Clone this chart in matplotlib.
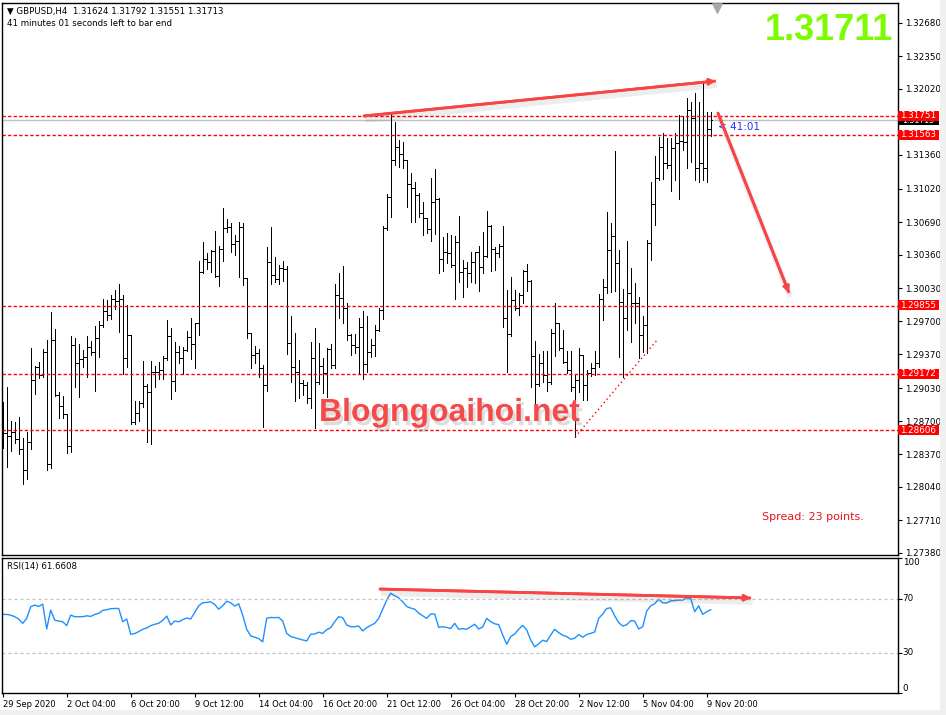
import matplotlib
matplotlib.use("Agg")
import matplotlib.pyplot as plt
import matplotlib.patheffects as pe
import matplotlib.transforms as mtransforms
from matplotlib.patches import Rectangle
import numpy as np

plt.rcParams['font.family'] = ['DejaVu Sans']

# GBPUSD H4 bars (oldest first)
opens = [
    1.2861, 1.2858, 1.2855, 1.2859, 1.2852, 1.2842, 1.2821, 1.2849, 1.2911, 1.2924,
    1.2916, 1.2939, 1.2827, 1.2951, 1.2896, 1.2885, 1.2877, 1.2845, 1.2946, 1.2928,
    1.2932, 1.2934, 1.2944, 1.2939, 1.2953, 1.2966, 1.2980, 1.2976, 1.2992, 1.2990,
    1.2992, 1.2933, 1.2956, 1.2869, 1.2878, 1.2888, 1.2905, 1.2899, 1.2919, 1.2919,
    1.2921, 1.2933, 1.2955, 1.2910, 1.2939, 1.2933, 1.2941, 1.2954, 1.2947, 1.2968,
    1.3019, 1.3032, 1.3029, 1.3040, 1.3015, 1.3042, 1.3063, 1.3064, 1.3047, 1.3050,
    1.3064, 1.3013, 1.2958, 1.2936, 1.2938, 1.2923, 1.2906, 1.3029, 1.3016, 1.3012,
    1.3023, 1.3022, 1.2948, 1.2924, 1.2919, 1.2908, 1.2906, 1.2893, 1.2933, 1.2909,
    1.2925, 1.2918, 1.2942, 1.2926, 1.2996, 1.2993, 1.2983, 1.2956, 1.2946, 1.2944,
    1.2964, 1.2927, 1.2939, 1.2946, 1.2961, 1.2981, 1.3063, 1.3094, 1.3131, 1.3144,
    1.3137, 1.3131, 1.3107, 1.3103, 1.3096, 1.3078, 1.3073, 1.3062, 1.3089, 1.3092,
    1.3032, 1.3039, 1.3038, 1.3026, 1.3049, 1.3019, 1.3023, 1.3018, 1.3029, 1.3039,
    1.3024, 1.3035, 1.3065, 1.3042, 1.3038, 1.3045, 1.2973, 1.2957, 1.2991, 1.2983,
    1.2996, 1.3020, 1.3010, 1.2935, 1.2907, 1.2928, 1.2916, 1.2909, 1.2958, 1.2968,
    1.2943, 1.2929, 1.2921, 1.2904, 1.2911, 1.2936, 1.2906, 1.2918, 1.2923, 1.2928,
    1.2992, 1.3004, 1.3041, 1.3055, 1.3028, 1.2989, 1.2973, 1.2998, 1.2988, 1.2988,
    1.2956, 1.2966, 1.3048, 1.3087, 1.3113, 1.3144, 1.3128, 1.3126, 1.3143, 1.3148,
    1.3150, 1.3149, 1.3181, 1.3173, 1.3123, 1.3128, 1.3123, 1.31624]
highs = [
    1.2889, 1.2904, 1.2870, 1.2869, 1.2874, 1.2853, 1.2859, 1.2943, 1.2925, 1.2929,
    1.2942, 1.2951, 1.2979, 1.2962, 1.2899, 1.2895, 1.2877, 1.2955, 1.2953, 1.2947,
    1.2941, 1.2955, 1.2950, 1.2965, 1.2970, 1.2992, 1.2991, 1.2996, 1.3001, 1.3007,
    1.2996, 1.2986, 1.2956, 1.2890, 1.2890, 1.2930, 1.2907, 1.2930, 1.2925, 1.2929,
    1.2935, 1.2971, 1.2963, 1.2949, 1.2945, 1.2944, 1.2960, 1.2973, 1.2968, 1.3030,
    1.3049, 1.3038, 1.3041, 1.3060, 1.3045, 1.3083, 1.3072, 1.3068, 1.3056, 1.3069,
    1.3068, 1.3013, 1.2958, 1.2945, 1.2942, 1.2926, 1.3044, 1.3064, 1.3034, 1.3026,
    1.3030, 1.3025, 1.2975, 1.2958, 1.2931, 1.2911, 1.2909, 1.2949, 1.2963, 1.2948,
    1.2933, 1.2943, 1.2947, 1.3007, 1.3018, 1.3025, 1.2988, 1.2957, 1.2957, 1.2973,
    1.2980, 1.2975, 1.2952, 1.2966, 1.2983, 1.3065, 1.3097, 1.3177, 1.3169, 1.3151,
    1.3149, 1.3131, 1.3118, 1.3109, 1.3098, 1.3089, 1.3073, 1.3113, 1.3122, 1.3093,
    1.3054, 1.3058, 1.3056, 1.3055, 1.3075, 1.3031, 1.3029, 1.3039, 1.3039, 1.3045,
    1.3059, 1.3080, 1.3066, 1.3044, 1.3047, 1.3065, 1.3001, 1.3014, 1.3001, 1.2998,
    1.3021, 1.3027, 1.3011, 1.2950, 1.2937, 1.2940, 1.2940, 1.2962, 1.2988, 1.2968,
    1.2961, 1.2940, 1.2940, 1.2917, 1.2943, 1.2936, 1.2921, 1.2928, 1.2940, 1.2997,
    1.3012, 1.3079, 1.3068, 1.3140, 1.3041, 1.3002, 1.3050, 1.3023, 1.3008, 1.2994,
    1.2975, 1.3051, 1.3109, 1.3135, 1.3154, 1.3158, 1.3153, 1.3153, 1.3158, 1.3176,
    1.3175, 1.3193, 1.3189, 1.3198, 1.3189, 1.3208, 1.3179, 1.31792]
lows = [
    1.2843, 1.2824, 1.2840, 1.2848, 1.2837, 1.2807, 1.2812, 1.2842, 1.2897, 1.2913,
    1.2914, 1.2821, 1.2823, 1.2895, 1.2873, 1.2873, 1.2838, 1.2839, 1.2904, 1.2894,
    1.2924, 1.2914, 1.2936, 1.2900, 1.2934, 1.2964, 1.2971, 1.2972, 1.2982, 1.2959,
    1.2917, 1.2924, 1.2867, 1.2867, 1.2870, 1.2884, 1.2849, 1.2847, 1.2904, 1.2912,
    1.2912, 1.2931, 1.2892, 1.2900, 1.2928, 1.2917, 1.2940, 1.2932, 1.2923, 1.2956,
    1.3018, 1.3022, 1.3019, 1.3014, 1.3005, 1.3030, 1.3059, 1.3039, 1.3036, 1.3014,
    1.3006, 1.2953, 1.2923, 1.2928, 1.2914, 1.2864, 1.2900, 1.3007, 1.3009, 1.3007,
    1.3010, 1.2937, 1.2909, 1.2890, 1.2893, 1.2896, 1.2888, 1.2883, 1.2863, 1.2907,
    1.2898, 1.2894, 1.2923, 1.2923, 1.2973, 1.2968, 1.2951, 1.2936, 1.2938, 1.2918,
    1.2912, 1.2919, 1.2934, 1.2935, 1.2960, 1.2972, 1.3061, 1.3074, 1.3126, 1.3124,
    1.3123, 1.3084, 1.3069, 1.3069, 1.3074, 1.3056, 1.3058, 1.3050, 1.3057, 1.3018,
    1.3020, 1.3028, 1.3024, 1.2992, 1.3009, 1.2994, 1.3004, 1.3009, 1.3008, 1.3000,
    1.3018, 1.3034, 1.3020, 1.3021, 1.3034, 1.2964, 1.2919, 1.2955, 1.2981, 1.2976,
    1.2988, 1.3000, 1.2904, 1.2884, 1.2905, 1.2909, 1.2900, 1.2907, 1.2935, 1.2941,
    1.2928, 1.2918, 1.2900, 1.2854, 1.2899, 1.2891, 1.2891, 1.2915, 1.2916, 1.2924,
    1.2971, 1.2998, 1.2999, 1.3000, 1.2934, 1.2914, 1.2961, 1.2949, 1.2968, 1.2933,
    1.2939, 1.2938, 1.3031, 1.3066, 1.3111, 1.3112, 1.3123, 1.3100, 1.3111, 1.3092,
    1.3141, 1.3123, 1.3129, 1.3111, 1.3109, 1.3111, 1.3109, 1.31551]
closes = [
    1.2858, 1.2855, 1.2859, 1.2852, 1.2842, 1.2821, 1.2849, 1.2911, 1.2924, 1.2916,
    1.2939, 1.2827, 1.2951, 1.2896, 1.2885, 1.2877, 1.2845, 1.2946, 1.2928, 1.2932,
    1.2934, 1.2944, 1.2939, 1.2953, 1.2966, 1.2980, 1.2976, 1.2992, 1.2990, 1.2992,
    1.2933, 1.2956, 1.2869, 1.2878, 1.2888, 1.2905, 1.2899, 1.2919, 1.2919, 1.2921,
    1.2933, 1.2955, 1.2910, 1.2939, 1.2933, 1.2941, 1.2954, 1.2947, 1.2968, 1.3019,
    1.3032, 1.3029, 1.3040, 1.3015, 1.3042, 1.3063, 1.3064, 1.3047, 1.3050, 1.3064,
    1.3013, 1.2958, 1.2936, 1.2938, 1.2923, 1.2906, 1.3029, 1.3016, 1.3012, 1.3023,
    1.3022, 1.2948, 1.2924, 1.2919, 1.2908, 1.2906, 1.2893, 1.2933, 1.2909, 1.2925,
    1.2918, 1.2942, 1.2926, 1.2996, 1.2993, 1.2983, 1.2956, 1.2946, 1.2944, 1.2964,
    1.2927, 1.2939, 1.2946, 1.2961, 1.2981, 1.3063, 1.3094, 1.3131, 1.3144, 1.3137,
    1.3131, 1.3107, 1.3103, 1.3096, 1.3078, 1.3073, 1.3062, 1.3089, 1.3092, 1.3032,
    1.3039, 1.3038, 1.3026, 1.3049, 1.3019, 1.3023, 1.3018, 1.3029, 1.3039, 1.3024,
    1.3035, 1.3065, 1.3042, 1.3038, 1.3045, 1.2973, 1.2957, 1.2991, 1.2983, 1.2996,
    1.3020, 1.3010, 1.2935, 1.2907, 1.2928, 1.2916, 1.2909, 1.2958, 1.2968, 1.2943,
    1.2929, 1.2921, 1.2904, 1.2911, 1.2936, 1.2906, 1.2918, 1.2923, 1.2928, 1.2992,
    1.3004, 1.3041, 1.3055, 1.3028, 1.2989, 1.2973, 1.2998, 1.2988, 1.2988, 1.2956,
    1.2966, 1.3048, 1.3087, 1.3113, 1.3144, 1.3128, 1.3126, 1.3143, 1.3148, 1.3150,
    1.3149, 1.3181, 1.3173, 1.3123, 1.3128, 1.3123, 1.3162, 1.31713]

# RSI(14)
rsi = [
    58.2, 58.2, 57.7, 56.5, 54.8, 51.6, 55.3, 63.9, 65.1, 64.1,
    65.8, 47.4, 61.4, 54.0, 53.3, 52.8, 49.9, 57.7, 56.5, 56.5,
    56.5, 57.2, 56.7, 58.2, 59.0, 61.2, 61.7, 62.4, 62.6, 62.6,
    52.8, 54.8, 43.5, 44.0, 45.5, 47.2, 48.2, 49.9, 50.9, 51.6,
    53.8, 57.0, 50.4, 53.3, 52.8, 54.3, 55.5, 54.8, 59.7, 64.6,
    66.8, 67.1, 67.5, 65.6, 62.1, 64.6, 68.0, 66.8, 64.4, 66.1,
    57.7, 47.2, 42.3, 41.3, 40.3, 37.9, 55.3, 56.0, 55.8, 56.0,
    53.3, 44.2, 41.8, 41.0, 40.1, 39.3, 38.6, 43.5, 43.7, 45.0,
    44.2, 46.9, 48.4, 52.8, 56.5, 55.8, 50.4, 49.1, 49.1, 49.6,
    46.0, 48.4, 50.1, 51.6, 55.3, 62.1, 68.8, 73.9, 72.0, 70.5,
    67.5, 64.1, 62.9, 62.1, 59.2, 57.2, 55.3, 58.5, 58.5, 48.6,
    49.1, 48.6, 47.7, 51.6, 47.2, 47.7, 47.2, 49.1, 50.9, 47.4,
    48.9, 55.3, 52.8, 51.3, 50.6, 43.0, 36.1, 41.8, 43.7, 47.2,
    50.1, 46.7, 39.3, 34.2, 36.4, 39.1, 38.1, 43.0, 47.2, 44.7,
    42.8, 41.8, 39.8, 40.6, 43.3, 41.3, 43.3, 44.2, 45.2, 55.3,
    58.5, 62.6, 63.1, 57.2, 52.1, 49.6, 50.6, 53.6, 53.3, 47.4,
    49.1, 60.7, 64.6, 66.1, 69.5, 66.8, 66.6, 68.3, 68.5, 68.8,
    68.8, 70.5, 70.0, 60.2, 64.6, 58.2, 60.2, 61.66]

date_labels = ['29 Sep 2020', '2 Oct 04:00', '6 Oct 20:00', '9 Oct 12:00',
               '14 Oct 04:00', '16 Oct 20:00', '21 Oct 12:00', '26 Oct 04:00',
               '28 Oct 20:00', '2 Nov 12:00', '5 Nov 04:00', '9 Nov 20:00']
label_bars = [0, 16, 32, 48, 64, 80, 96, 112, 128, 144, 160, 176]

price_ticks = [1.27380, 1.27710, 1.28040, 1.28370, 1.28700, 1.29030, 1.29370,
               1.29700, 1.30030, 1.30360, 1.30690, 1.31020, 1.31360,
               1.32020, 1.32350, 1.32680]
levels = [1.31751, 1.31563, 1.29855, 1.29172, 1.28606]
bid = 1.31713
last_price = '1.31711'

# hand drawn lines: (bar positions, prices)
top_line_x, top_line_y = [90.3, 178.3], [1.3175, 1.3210]
down_x, down_y = [178.8, 196.6], [1.3178, 1.2998]
support_x, support_y = [143.1, 163.6], [1.2854, 1.2951]
rsi_line_x, rsi_line_y = [94.3, 187.1], [77.0, 70.4]

W, H = 946, 715
def box(x0, y0, x1, y1):
    return [x0 / W, 1 - y1 / H, (x1 - x0) / W, (y1 - y0) / H]

fig = plt.figure(figsize=(W / 100, H / 100), dpi=100)
fig.patch.set_facecolor('white')
ax = fig.add_axes(box(2.3, 3.3, 897.7, 555))
ax2 = fig.add_axes(box(2.3, 558, 897.7, 693))

xlim = (-0.1, 223.75)
j = np.arange(len(closes))
red = '#FF0000'
arrow_red = '#F84444'

# ---- price window
bar_lw = 0.6
tick = 0.32
ax.vlines(j, lows, highs, colors='black', lw=bar_lw, antialiased=False)
ax.hlines(opens, j - tick, j, colors='black', lw=bar_lw, antialiased=False)
ax.hlines(closes, j, j + tick, colors='black', lw=bar_lw, antialiased=False)
ax.set_xlim(*xlim)
ax.set_ylim(1.2736, 1.32877)
ax.set_xticks([])
ax.yaxis.tick_right()
ax.set_yticks(price_ticks)
ax.set_yticklabels([f'{v:.5f}' for v in price_ticks])
ax.tick_params(axis='y', direction='out', length=3, width=0.8, labelsize=6.3, pad=2)
for s in ax.spines.values():
    s.set_linewidth(1.0)

ax.axhline(bid, color='#C0C0C0', lw=1.0, zorder=1)
for lv in levels:
    ax.axhline(lv, color=red, lw=1.0, dashes=(2.4, 1.6), zorder=2)

# price labels on the right scale; the bid label sits mostly under the red one
blend = mtransforms.blended_transform_factory(ax.transAxes, ax.transData)
bw = 41 / 895.4
bh = 0.0010
bid_box = Rectangle((1.0, bid - bh / 2), bw, bh, transform=blend, fc='black',
                    ec='none', clip_on=False, zorder=6)
ax.add_patch(bid_box)
bid_txt = ax.text(1.0 + bw / 2, bid - 0.0001, f'{bid:.5f}', transform=blend, ha='center',
                  va='center', color='white', fontsize=5.6, zorder=7)
bid_txt.set_clip_path(bid_box)
for lv in levels:
    ax.add_patch(Rectangle((1.0, lv - bh / 2), bw, bh, transform=blend, fc=red,
                           ec='none', clip_on=False, zorder=8))
    ax.text(1.0 + bw / 2, lv, f'{lv:.5f}', transform=blend, ha='center', va='center',
            color='white', fontsize=6.3, clip_on=False, zorder=9)

shadow = [pe.SimpleLineShadow(offset=(1, -3), shadow_color='black', alpha=0.07, linewidth=4),
          pe.Normal()]
for xs, ys, a in [(top_line_x, top_line_y, ax), (down_x, down_y, ax),
                  (rsi_line_x, rsi_line_y, ax2)]:
    a.plot(xs, ys, color=arrow_red, lw=2, solid_capstyle='butt', path_effects=shadow,
           clip_on=False, zorder=4)
    a.annotate('', xy=(xs[1], ys[1]), xytext=(xs[0], ys[0]),
               arrowprops=dict(arrowstyle='-|>', color=arrow_red, lw=2,
                               mutation_scale=9, shrinkA=0, shrinkB=0),
               annotation_clip=False, zorder=5)
ax.plot(support_x, support_y, color=red, lw=1, dashes=(1, 2.2), zorder=3)

# chart shift marker
ax.scatter([178.5], [0.992], marker='v', s=45, color='#A8A8A8',
           transform=mtransforms.blended_transform_factory(ax.transData, ax.transAxes),
           clip_on=False, zorder=6)

ax.text(178.8, 1.3164, '< 41:01', color='#2233FF', fontsize=7.5, va='center', ha='left')
ax.text((762 - 2.3) / 895.4, 1 - (517 - 3.3) / 551.7, 'Spread: 23 points.', color='#E8141E',
        fontsize=8, transform=ax.transAxes, va='center', ha='left')
ax.text((319 - 2.3) / 895.4, 1 - (421 - 3.3) / 551.7, 'Blogngoaihoi.net',
        transform=ax.transAxes, family='Liberation Sans', fontweight='bold', fontsize=23,
        color='#F64A4A', va='baseline', ha='left', zorder=6,
        path_effects=[pe.withSimplePatchShadow(offset=(2, -3), shadow_rgbFace='#909090',
                                               alpha=0.3)])

fig.text(893 / W, 1 - 39.5 / H, last_price, ha='right', va='baseline', fontsize=26,
         fontweight='bold', family='Liberation Sans', color='#7CFC00')
fig.text(7 / W, 1 - 11 / H, '\u25BC GBPUSD,H4  1.31624 1.31792 1.31551 1.31713',
         fontsize=6.2, va='center', ha='left')
fig.text(7 / W, 1 - 24 / H, '41 minutes 01 seconds left to bar end',
         fontsize=6.2, va='center', ha='left')

# ---- RSI window
ax2.plot(j, rsi, color='#1E90FF', lw=1.0)
for lv in (70, 30):
    ax2.axhline(lv, color='#C0C0C0', lw=0.9, dashes=(2.4, 2.4))
ax2.set_xlim(*xlim)
ax2.set_ylim(0, 100)
ax2.yaxis.tick_right()
ax2.set_yticks([0, 30, 70, 100])
ax2.set_yticklabels([])
ax2.tick_params(axis='y', direction='out', length=3, width=0.8)
ax2.set_xticks(label_bars)
ax2.set_xticklabels(date_labels, ha='left', fontsize=6.0)
ax2.tick_params(axis='x', direction='out', length=3, width=0.8, pad=2)
blend2 = mtransforms.blended_transform_factory(ax2.transAxes, ax2.transData)
tx = 1 + 5 / 895.4
ax2.text(tx, 100, '100', transform=blend2, fontsize=6.3, va='top', ha='left')
ax2.text(tx, 70, '70', transform=blend2, fontsize=6.3, va='center', ha='left')
ax2.text(tx, 30, '30', transform=blend2, fontsize=6.3, va='center', ha='left')
ax2.text(tx, 0, '0', transform=blend2, fontsize=6.3, va='bottom', ha='left')
ax2.text(5 / 895.4, 0.97, 'RSI(14) 61.6608', transform=ax2.transAxes, fontsize=6.2,
         va='top', ha='left')
for s in ax2.spines.values():
    s.set_linewidth(1.0)

# window chrome
fig.patches.append(Rectangle((940 / W, 0), 6 / W, 1, transform=fig.transFigure,
                             fc='#F0F0F0', ec='none'))
fig.patches.append(Rectangle((0, 0), 1, 5 / H, transform=fig.transFigure,
                             fc='#F0F0F0', ec='none'))

fig.savefig('out.png', dpi=100)
